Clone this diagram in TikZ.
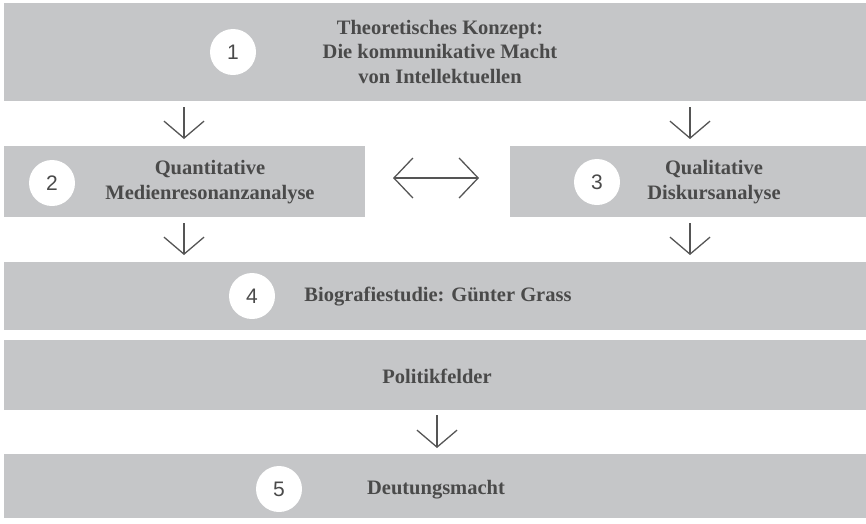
\documentclass[tikz,border=0pt]{standalone}
\usepackage{fontspec}
\setmainfont{Liberation Serif}
\newfontfamily\numfont{Liberation Sans}
\usetikzlibrary{arrows.meta}
\definecolor{boxgray}{HTML}{C5C6C8}
\definecolor{textgray}{HTML}{4A4A4A}
\definecolor{arrowgray}{HTML}{555555}

\begin{document}
\begin{tikzpicture}[x=1pt,y=-1pt,
  panel/.style={fill=boxgray, draw=none, inner sep=0pt, anchor=north west},
  label/.style={font=\fontsize{20.5}{24.5}\selectfont\bfseries, text=textgray, align=center, inner sep=0pt},
  num/.style={circle, fill=white, minimum size=46pt, inner sep=0pt,
    font=\numfont\fontsize{21}{24}\selectfont, text=textgray},
  flow/.style={draw=arrowgray, line width=1.3pt,
    -{Straight Barb[length=17pt, width=40pt, line width=1.3pt]}},
  both/.style={draw=arrowgray, line width=1.8pt,
    {Straight Barb[length=19pt, width=40pt, line width=1.3pt]}-{Straight Barb[length=19pt, width=40pt, line width=1.3pt]}}]

  % canvas
  \path[use as bounding box] (0,0) rectangle (866,523);

  % panels
  \node[panel, minimum width=862pt, minimum height=98pt] (theory) at (4,3) {};
  \node[panel, minimum width=361pt, minimum height=71pt] (quant) at (4,146) {};
  \node[panel, minimum width=356pt, minimum height=71pt] (qual) at (510,146) {};
  \node[panel, minimum width=862pt, minimum height=68pt] (bio) at (4,262) {};
  \node[panel, minimum width=862pt, minimum height=70pt] (policy) at (4,340) {};
  \node[panel, minimum width=862pt, minimum height=64pt] (power) at (4,454) {};

  % labels
  \node[label] (theoryT) at (440,52) {Theoretisches Konzept:\\Die kommunikative Macht\\von Intellektuellen};
  \node[label] (quantT) at (210,182) {Quantitative\\Medienresonanzanalyse};
  \node[label] (qualT) at (714,182) {Qualitative\\Diskursanalyse};
  \node[label] (bioT) at (438,297) {Biografiestudie: Günter Grass};
  \node[label] (policyT) at (437,376) {Politikfelder};
  \node[label] (powerT) at (436,490) {Deutungsmacht};

  % step numbers
  \node[num] (n1) at (233,52) {1};
  \node[num] (n2) at (52,183) {2};
  \node[num] (n3) at (597,182) {3};
  \node[num] (n4) at (252,296) {4};
  \node[num] (n5) at (279,489) {5};

  % arrow end points
  \coordinate (a1s) at (184,107);  \coordinate (a1e) at (184,139);
  \coordinate (a2s) at (690,107);  \coordinate (a2e) at (690,139);
  \coordinate (a3s) at (184,223);  \coordinate (a3e) at (184,255);
  \coordinate (a4s) at (690,223);  \coordinate (a4e) at (690,255);
  \coordinate (a5s) at (437,415);  \coordinate (a5e) at (437,448);
  \coordinate (dl) at (393,178);   \coordinate (dr) at (479,178);

  % connectors
  \draw[flow] (a1s) -- (a1e);
  \draw[flow] (a2s) -- (a2e);
  \draw[flow] (a3s) -- (a3e);
  \draw[flow] (a4s) -- (a4e);
  \draw[flow] (a5s) -- (a5e);
  \draw[both] (dl) -- (dr);
\end{tikzpicture}
\end{document}
